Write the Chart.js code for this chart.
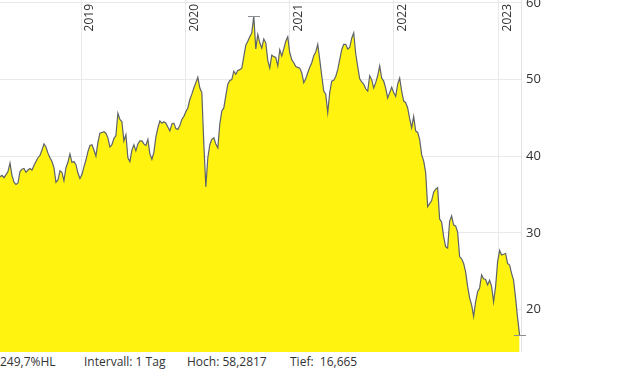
<!DOCTYPE html>
<html>
<head>
<meta charset="utf-8">
<title>Kursverlauf</title>
<script src="https://cdn.jsdelivr.net/npm/chart.js@4.4.0/dist/chart.umd.min.js"></script>
<style>
  html, body { margin: 0; padding: 0; background: #fff; }
  #wrap { position: relative; width: 620px; height: 372px; overflow: hidden; }
  #kurs { display: block; }
  .info { position: absolute; top: 353px; font: 12px "Open Sans", sans-serif; color: #333; white-space: pre; line-height: 18px; }
</style>
</head>
<body>
<div id="wrap">
  <canvas id="kurs" width="620" height="352"></canvas>
</div>
<script>
// weekly closes, first week ending 23.03.2018
const startDate = Date.UTC(2018, 2, 23);
const DAY = 864e5;
const closes = [
  37.3, 37.5, 37.2, 37.6, 38.0, 39.1, 37.5, 36.6, 36.3, 36.5,
  38.0, 38.3, 38.4, 37.9, 38.2, 38.4, 38.2, 38.8, 39.3, 39.8,
  40.1, 40.8, 41.6, 41.2, 40.4, 39.8, 39.3, 38.5, 36.6, 36.9,
  38.1, 37.9, 36.8, 38.5, 39.2, 40.3, 39.2, 39.3, 38.9, 37.8,
  37.1, 37.6, 38.6, 39.5, 40.6, 41.4, 41.5, 40.8, 40.0, 41.8,
  43.0, 43.1, 43.2, 43.0, 42.4, 41.2, 41.5, 42.3, 42.7, 45.6,
  44.8, 44.5, 42.0, 42.8, 39.8, 39.3, 40.8, 41.5, 40.7, 41.6,
  42.0, 42.0, 41.6, 41.4, 42.2, 40.3, 39.6, 40.5, 42.5, 43.7,
  44.6, 44.3, 44.5, 44.3, 43.8, 43.3, 44.2, 44.3, 43.6, 43.5,
  44.0, 44.8, 45.2, 45.8, 46.3, 47.4, 48.1, 48.9, 49.6, 50.3,
  48.9, 48.3, 41.6, 36.0, 39.8, 41.5, 42.2, 42.4, 41.6, 41.1,
  44.2, 45.9, 46.3, 47.9, 49.4, 49.9, 50.0, 51.1, 50.7, 51.2,
  51.3, 51.5, 53.0, 54.5, 55.0, 55.6, 56.1, 58.2817, 54.0, 55.9,
  54.8, 54.1, 55.3, 54.8, 52.5, 51.5, 53.2, 53.0, 52.9, 51.8,
  53.9, 53.1, 54.0, 55.0, 55.6, 53.5, 52.6, 52.2, 51.7, 51.6,
  51.5, 50.9, 49.6, 50.1, 50.9, 51.6, 52.2, 53.1, 53.6, 54.6,
  52.6, 50.5, 48.5, 48.1, 45.7, 48.3, 49.8, 49.9, 50.4, 51.3,
  52.6, 53.9, 54.6, 54.6, 54.0, 54.2, 55.4, 56.1, 53.4, 51.7,
  50.1, 49.7, 49.4, 48.8, 48.5, 50.5, 50.0, 48.9, 49.6, 50.5,
  51.8, 50.2, 49.8, 48.9, 47.6, 48.3, 49.0, 48.3, 47.8, 49.4,
  50.2, 48.5, 47.2, 47.0, 46.3, 44.9, 43.7, 45.2, 43.3, 43.1,
  42.2, 40.2, 39.4, 37.9, 33.4, 33.8, 34.2, 35.3, 35.7, 35.9,
  31.8, 31.4, 29.5, 28.2, 28.0, 31.5, 32.2, 31.0, 30.9, 30.1,
  26.9, 26.6, 26.0, 24.9, 23.0, 21.5, 20.6, 19.1, 21.0, 22.3,
  22.8, 24.5, 24.0, 23.9, 23.2, 23.8, 23.0, 21.0, 23.0, 26.2,
  27.7, 27.1, 27.2, 27.3, 26.0, 25.8, 24.7, 23.8, 21.5, 18.9,
  16.665
];
const yearTicks = [2019, 2020, 2021, 2022, 2023];
const priceTicks = [20, 30, 40, 50, 60];
const highMark = { week: 127, value: 58.2817 };
const lowMark = { week: 260, value: 16.665 };
const infoItems = ['249,7%HL', 'Intervall: 1 Tag', 'Hoch: 58,2817', 'Tief:  16,665'];
const infoLeft = [0, 84, 187, 290];

const weekToX = function (i) { return startDate + i * 7 * DAY; };
const points = closes.map(function (v, i) { return { x: weekToX(i), y: v }; });

// tick labels are drawn here so the axes take no extra room
const overlay = {
  id: 'overlay',
  afterDraw: function (chart) {
    const ctx = chart.ctx;
    const xs = chart.scales.x, ys = chart.scales.y;
    const area = chart.chartArea;
    ctx.save();
    ctx.strokeStyle = '#8a8d91';
    ctx.lineWidth = 1;
    [highMark, lowMark].forEach(function (m) {
      const px = Math.round(xs.getPixelForValue(weekToX(m.week)));
      const py = Math.round(ys.getPixelForValue(m.value)) + 0.5;
      ctx.beginPath();
      ctx.moveTo(px - 6, py);
      ctx.lineTo(px + 6, py);
      ctx.stroke();
    });
    ctx.fillStyle = '#333';
    ctx.font = '12px "Open Sans"';
    ctx.textAlign = 'right';
    ctx.textBaseline = 'middle';
    yearTicks.forEach(function (y) {
      const px = xs.getPixelForValue(Date.UTC(y, 0, 1));
      ctx.save();
      ctx.translate(px + 9, 4);
      ctx.rotate(-Math.PI / 2);
      ctx.fillText(String(y), 0, 0);
      ctx.restore();
    });
    ctx.font = '13px "Open Sans"';
    ctx.textAlign = 'left';
    priceTicks.forEach(function (v) {
      ctx.fillText(String(v), area.right + 5, ys.getPixelForValue(v));
    });
    ctx.restore();
  }
};

new Chart(document.getElementById('kurs'), {
  type: 'line',
  data: {
    datasets: [{
      data: points,
      borderColor: '#5d6369',
      borderWidth: 1.2,
      backgroundColor: 'rgba(255, 242, 0, 0.94)',
      fill: 'start',
      pointRadius: 0,
      tension: 0
    }]
  },
  options: {
    responsive: false,
    animation: false,
    layout: { padding: 0 },
    plugins: { legend: { display: false }, tooltip: { enabled: false } },
    scales: {
      x: {
        type: 'linear',
        min: startDate,
        max: startDate + 1825 * DAY,
        afterBuildTicks: function (scale) {
          scale.ticks = yearTicks.map(function (y) { return { value: Date.UTC(y, 0, 1) }; });
        },
        afterFit: function (scale) { scale.height = 0; },
        border: { display: false },
        grid: { color: '#e9e9e9', drawTicks: false },
        ticks: { display: false }
      },
      y: {
        position: 'right',
        min: 14.44,
        max: 60.39,
        afterBuildTicks: function (scale) {
          scale.ticks = priceTicks.map(function (v) { return { value: v }; });
        },
        afterFit: function (scale) { scale.width = 99; },
        border: { color: '#e4e4e4' },
        grid: { color: '#e9e9e9', drawTicks: false },
        ticks: { display: false }
      }
    }
  },
  plugins: [overlay]
});

const wrap = document.getElementById('wrap');
infoItems.forEach(function (t, i) {
  const d = document.createElement('div');
  d.className = 'info';
  d.style.left = infoLeft[i] + 'px';
  d.textContent = t;
  wrap.appendChild(d);
});
</script>
</body>
</html>
